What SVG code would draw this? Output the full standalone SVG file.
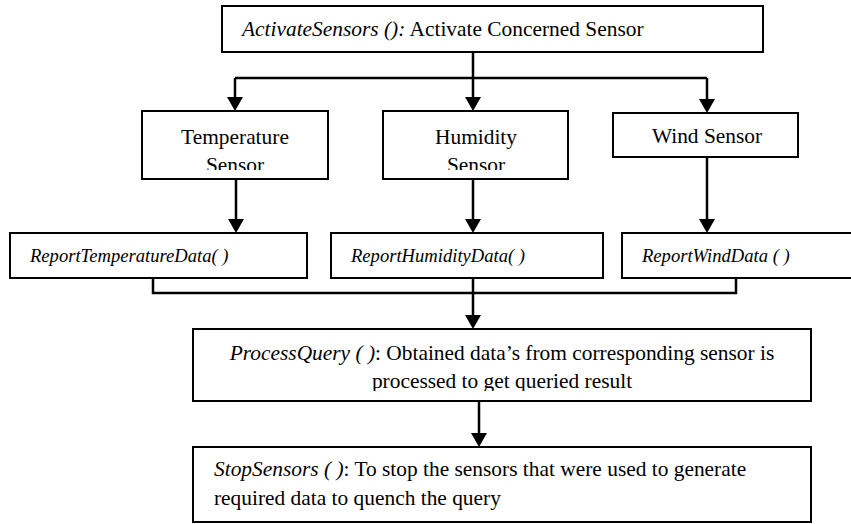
<svg xmlns="http://www.w3.org/2000/svg" width="851" height="524" viewBox="0 0 851 524">
<style>
.box{fill:#fff;stroke:#000;stroke-width:2}
.t{font-family:'Liberation Serif','Times New Roman',serif;font-size:21.4px;fill:#000}
.s{font-family:'Liberation Serif','Times New Roman',serif;font-size:18.6px;font-style:italic;fill:#000}
.i{font-style:italic}
.c{text-anchor:middle}
.ln{fill:none;stroke:#000;stroke-width:2.5}
.ar{fill:none;stroke:#000;stroke-width:2.5;marker-end:url(#ah)}
</style>
<defs>
<marker id="ah" markerUnits="userSpaceOnUse" viewBox="0 0 14 16" markerWidth="14" markerHeight="16" refX="8" refY="8" orient="auto">
<path d="M0,0 L14,8 L0,16 Z" fill="#000"/>
</marker>
<clipPath id="clipT"><rect x="142" y="111" width="186" height="59"/></clipPath>
<clipPath id="clipH"><rect x="383" y="111" width="185" height="59"/></clipPath>
<clipPath id="clipP"><rect x="193" y="329" width="618" height="62"/></clipPath>
</defs>
<g id="connectors">
<path class="ar" d="M473,52 V105"/>
<path class="ln" d="M235,78 H707"/>
<path class="ar" d="M235,78 V105"/>
<path class="ar" d="M707,78 V107"/>
<path class="ar" d="M236,179 V227"/>
<path class="ar" d="M473,179 V227"/>
<path class="ar" d="M707,157 V227"/>
<path class="ln" d="M153,278 V293 H736 V278"/>
<path class="ar" d="M473,278 V323"/>
<path class="ar" d="M479,401 V441"/>
</g>
<g id="activate">
<rect class="box" x="222" y="6" width="541" height="46"/>
<text class="t" x="242" y="36"><tspan class="i">ActivateSensors ():</tspan> Activate Concerned Sensor</text>
</g>
<g id="temperature">
<rect class="box" x="142" y="111" width="186" height="68"/>
<g clip-path="url(#clipT)">
<text class="t c" x="235" y="144">Temperature</text>
<text class="t c" x="235" y="172">Sensor</text>
</g>
</g>
<g id="humidity">
<rect class="box" x="383" y="111" width="185" height="68"/>
<g clip-path="url(#clipH)">
<text class="t c" x="476" y="144">Humidity</text>
<text class="t c" x="476" y="172">Sensor</text>
</g>
</g>
<g id="wind">
<rect class="box" x="613" y="113" width="185" height="44"/>
<text class="t c" x="707" y="143">Wind Sensor</text>
</g>
<g id="reportTemperature">
<rect class="box" x="10" y="233" width="297" height="45"/>
<text class="s" x="30" y="262">ReportTemperatureData( )</text>
</g>
<g id="reportHumidity">
<rect class="box" x="331" y="233" width="272" height="45"/>
<text class="s" x="351" y="262">ReportHumidityData( )</text>
</g>
<g id="reportWind">
<rect class="box" x="622" y="233" width="240" height="45"/>
<text class="s" x="642" y="262">ReportWindData ( )</text>
</g>
<g id="processQuery">
<rect class="box" x="193" y="329" width="618" height="72"/>
<g clip-path="url(#clipP)">
<text class="t c" x="502" y="360"><tspan class="i">ProcessQuery ( )</tspan>: Obtained data’s from corresponding sensor is</text>
<text class="t c" x="502" y="388">processed to get queried result</text>
</g>
</g>
<g id="stopSensors">
<rect class="box" x="193" y="447" width="618" height="75"/>
<text class="t" x="214" y="476"><tspan class="i">StopSensors ( )</tspan>: To stop the sensors that were used to generate</text>
<text class="t" x="214" y="505">required data to quench the query</text>
</g>
</svg>
